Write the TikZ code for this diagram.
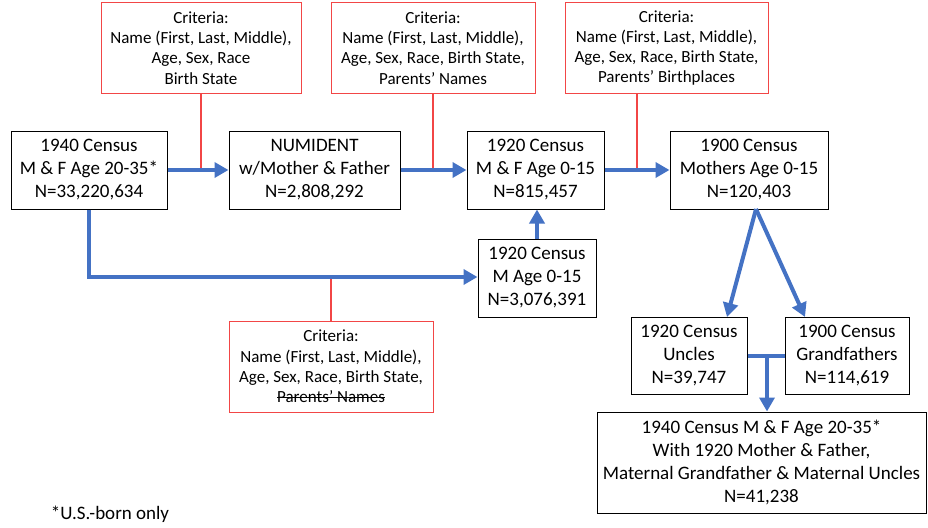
\documentclass[tikz,border=0pt]{standalone}
\usepackage{fontspec}
\setmainfont{Carlito}
\usetikzlibrary{arrows.meta}
\definecolor{arrblue}{RGB}{68,114,196}
\definecolor{critred}{RGB}{242,70,70}
\newcommand\mystrike[1]{\leavevmode\setbox0\hbox{#1}\rlap{\rule[0.27em]{\wd0}{0.07em}}\box0}
\begin{document}
\begin{tikzpicture}[x=1pt,y=-1pt,
  box/.style={draw=black, line width=1pt, align=center, inner sep=0pt, font=\fontsize{19}{23}\selectfont},
  crit/.style={draw=critred, line width=1pt, align=center, inner sep=0pt, minimum width=203pt, minimum height=90pt, font=\fontsize{17}{20.3}\selectfont},
  flow/.style={draw=arrblue, line width=4pt, -{Triangle[length=14pt,width=15pt]}},
  joinline/.style={draw=arrblue, line width=4pt},
  link/.style={draw=critred, line width=1.2pt}]
\useasboundingbox (0,0) rectangle (928,527);

% main boxes
\node[box, minimum width=156pt, minimum height=78pt] (c40) at (89,170) {1940 Census\\M \& F Age 20-35*\\N=33,220,634};
\node[box, minimum width=171pt, minimum height=78pt] (num) at (314.5,170) {NUMIDENT\\w/Mother \& Father\\N=2,808,292};
\node[box, minimum width=137pt, minimum height=78pt] (mf20) at (535.5,170) {1920 Census\\M \& F Age 0-15\\N=815,457};
\node[box, minimum width=158pt, minimum height=78pt] (mo00) at (749,170) {1900 Census\\Mothers Age 0-15\\N=120,403};
\node[box, minimum width=118pt, minimum height=78pt] (m20) at (537,278) {1920 Census\\M Age 0-15\\N=3,076,391};
\node[box, minimum width=116pt, minimum height=77pt] (unc) at (689,355.5) {1920 Census\\Uncles\\N=39,747};
\node[box, minimum width=124pt, minimum height=77pt] (gf) at (847,355.5) {1900 Census\\Grandfathers\\N=114,619};
\node[box, minimum width=329pt, minimum height=101pt] (fin) at (761.5,462.5) {1940 Census M \& F Age 20-35*\\With 1920 Mother \& Father,\\Maternal Grandfather \& Maternal Uncles\\N=41,238};

% criteria boxes
\node[crit, minimum width=200pt] (cr1) at (201,48) {Criteria:\\Name (First, Last, Middle),\\Age, Sex, Race\\Birth State};
\node[crit, minimum width=204pt] (cr2) at (433,48) {Criteria:\\Name (First, Last, Middle),\\Age, Sex, Race, Birth State,\\Parents’ Names};
\node[crit, minimum width=203pt] (cr3) at (666.5,48) {Criteria:\\Name (First, Last, Middle),\\Age, Sex, Race, Birth State,\\Parents’ Birthplaces};
\node[crit, minimum width=204pt, minimum height=91pt] (crb) at (331,366.5) {Criteria:\\Name (First, Last, Middle),\\Age, Sex, Race, Birth State,\\\mystrike{Parents’ Names}};

% footnote
\node[font=\fontsize{19}{22}\selectfont, inner sep=0pt] (foot) at (110,514) {*U.S.-born only};

% criteria links
\draw[link] (cr1.south) -- (cr1.south |- c40.east);
\draw[link] (cr2.south) -- (cr2.south |- num.east);
\coordinate (cr3foot) at (637,93);
\draw[link] (cr3foot) -- (cr3foot |- mf20.east);
\coordinate (bend) at (89,277);
\draw[link] (crb.north) -- (crb.north |- bend);

% flows
\draw[flow] (c40.east) -- (num.west);
\draw[flow] (num.east) -- (mf20.west);
\draw[flow] (mf20.east) -- (mo00.west);
\draw[flow] (c40.south) -- (bend) -- (bend -| m20.west);
\draw[flow] (m20.north) -- (m20.north |- mf20.south);
\coordinate (apex) at (756,209);
\coordinate (uncin) at (727,317);
\coordinate (gfin) at (805,317);
\draw[flow] (apex) -- (uncin);
\draw[flow] (apex) -- (gfin);
\draw[joinline] (unc.east) -- (gf.west);
\coordinate (jn) at (767,355.5);
\draw[flow] (jn) -- (jn |- fin.north);
\end{tikzpicture}
\end{document}
